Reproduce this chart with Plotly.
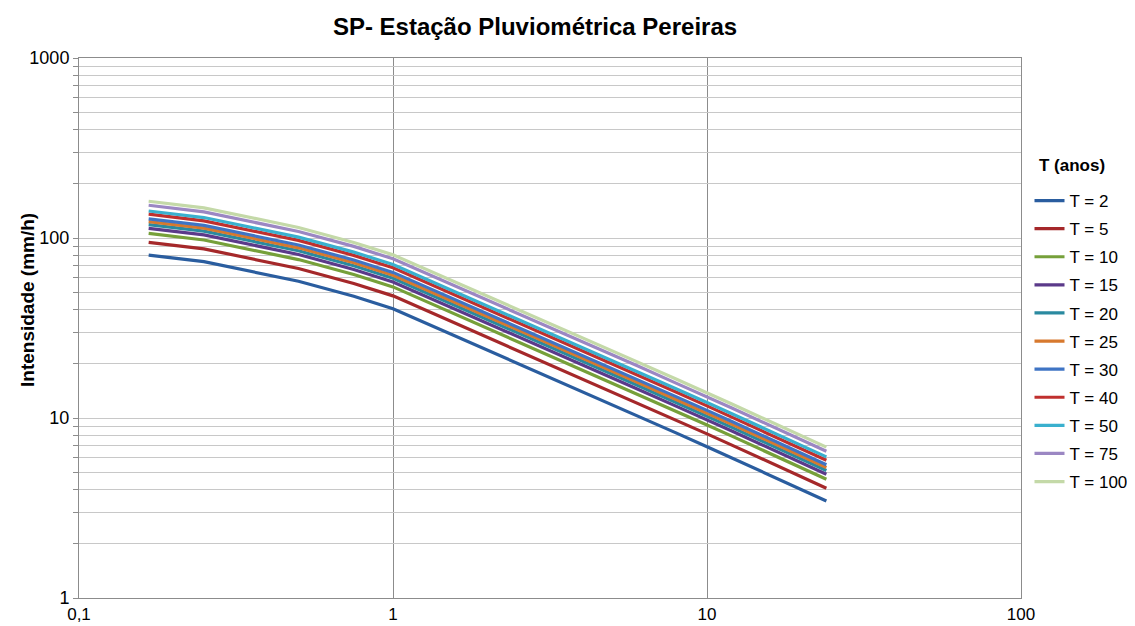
import plotly.graph_objects as go

durations_h = [1/6, 0.25, 0.5, 0.75, 1, 2, 3, 4, 6, 8, 10, 12, 24]

series_names = ["T = 2", "T = 5", "T = 10", "T = 15", "T = 20", "T = 25",
                "T = 30", "T = 40", "T = 50", "T = 75", "T = 100"]

T2 = [80.4, 73.9, 57.5, 47.5, 40.5, 23.9, 17.5, 14.1, 10.3, 8.24, 6.93, 6.01, 3.46]
T5 = [94.6, 87.0, 67.7, 55.9, 47.7, 28.1, 20.6, 16.6, 12.1, 9.70, 8.16, 7.07, 4.07]
T10 = [106.1, 97.5, 75.9, 62.7, 53.5, 31.5, 23.1, 18.6, 13.6, 10.88, 9.15, 7.93, 4.57]
T15 = [113.2, 104.1, 81.0, 66.9, 57.0, 33.7, 24.6, 19.9, 14.5, 11.60, 9.76, 8.46, 4.87]
T20 = [118.7, 109.1, 84.9, 70.1, 59.8, 35.3, 25.8, 20.8, 15.2, 12.16, 10.23, 8.87, 5.11]
T25 = [123.3, 113.4, 88.2, 72.9, 62.1, 36.7, 26.9, 21.6, 15.8, 12.64, 10.63, 9.22, 5.31]
T30 = [127.8, 117.5, 91.4, 75.5, 64.4, 38.0, 27.8, 22.4, 16.4, 13.10, 11.02, 9.56, 5.50]
T40 = [135.6, 124.6, 97.0, 80.1, 68.3, 40.3, 29.5, 23.8, 17.4, 13.89, 11.68, 10.13, 5.83]
T50 = [141.3, 129.9, 101.1, 83.5, 71.2, 42.0, 30.8, 24.8, 18.1, 14.49, 12.18, 10.57, 6.08]
T75 = [152.0, 139.7, 108.7, 89.8, 76.6, 45.2, 33.1, 26.7, 19.5, 15.57, 13.10, 11.36, 6.54]
T100 = [160.0, 147.1, 114.4, 94.5, 80.6, 47.6, 34.8, 28.1, 20.5, 16.40, 13.79, 11.96, 6.89]

all_series = [T2, T5, T10, T15, T20, T25, T30, T40, T50, T75, T100]

colors = ["#2A5D9F", "#A5282A", "#76A03A", "#5B3A8A", "#2A8AA0", "#D7792E",
          "#3F74C4", "#C0302E", "#3AB0CE", "#9B87C3", "#C4D9A8"]

x_tickvals = [0.1, 1, 10, 100]
x_ticktext = ["0,1", "1", "10", "100"]

y_tickvals = [m * 10 ** e for e in range(0, 3) for m in range(1, 10)] + [1000]
y_ticktext = [str(v) if v in (1, 10, 100, 1000) else "" for v in y_tickvals]

fig = go.Figure()
for i, (name, vals, col) in enumerate(zip(series_names, all_series, colors)):
    fig.add_trace(go.Scatter(
        x=durations_h, y=vals, mode="lines", name=name,
        line=dict(color=col, width=3.2), legendgroup=f"g{i}",
    ))

font_family = "Liberation Sans, Arial, sans-serif"

# page is offset by the browser's 8px body margin; margins compensate
L, R, T, B = 71, 122, 50, 36
plot_w = 1135 - L - R
plot_h = 626 - T - B

fig.update_layout(
    width=1135, height=626,
    margin=dict(l=L, r=R, t=T, b=B, autoexpand=False),
    paper_bgcolor="white", plot_bgcolor="white",
    font=dict(family=font_family, color="#000000", size=17),
    separators=",.",
    title=dict(text="<b>SP- Estação Pluviométrica Pereiras</b>",
               xref="container", yref="container",
               x=527 / 1135, xanchor="center", y=1 - 19 / 626, yanchor="middle",
               font=dict(size=24, family=font_family)),
    showlegend=True,
    legend=dict(xref="container", yref="container",
                x=1021.5 / 1135, xanchor="left", y=1 - 175 / 626, yanchor="top",
                font=dict(size=17, family=font_family),
                tracegroupgap=3, itemwidth=30,
                bgcolor="rgba(0,0,0,0)"),
    annotations=[
        dict(text="<b>T (anos)</b>", xref="paper", yref="paper",
             x=(1029 - L) / plot_w, xanchor="left",
             y=(626 - B - 157) / plot_h, yanchor="middle",
             showarrow=False, font=dict(size=17, family=font_family)),
        dict(text="<b>Intensidade (mm/h)</b>", xref="paper", yref="paper",
             x=(19 - L) / plot_w, xanchor="center",
             y=(626 - B - 292) / plot_h, yanchor="middle", textangle=-90,
             showarrow=False, font=dict(size=19, family=font_family)),
    ],
)

fig.update_xaxes(
    type="log", range=[-1, 2], automargin=False,
    tickvals=x_tickvals, ticktext=x_ticktext,
    showgrid=True, gridcolor="#8C8C8C", gridwidth=1,
    showline=True, linecolor="#8C8C8C", linewidth=1, mirror=True,
    ticks="", tickfont=dict(size=17), ticklabelstandoff=1, zeroline=False,
)
fig.update_yaxes(
    type="log", range=[0, 3], automargin=False,
    tickvals=y_tickvals, ticktext=y_ticktext,
    showgrid=True, gridcolor="#C8C8C8", gridwidth=1,
    showline=True, linecolor="#8C8C8C", linewidth=1, mirror=True,
    ticks="outside", ticklen=5, tickcolor="#8C8C8C",
    tickfont=dict(size=18), zeroline=False,
)

fig.write_html("out.html")
